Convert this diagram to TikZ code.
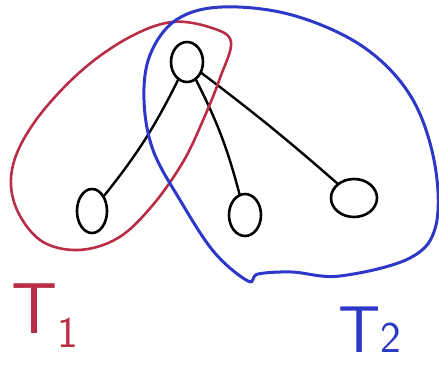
\documentclass[tikz,border=0pt]{standalone}
\usetikzlibrary{shapes.geometric}
\definecolor{penred}{RGB}{185,45,70}
\definecolor{penblue}{RGB}{45,55,200}
\tikzset{
  vert/.style={draw=black, line width=2.6pt, ellipse, inner sep=0pt},
  link/.style={draw=black, line width=2.4pt, line cap=round},
  redloop/.style={draw=penred, line width=2.6pt, line cap=round},
  blueloop/.style={draw=penblue, line width=3pt, line cap=round},
  lbl/.style={inner sep=0pt, font=\sffamily}
}
\begin{document}
\begin{tikzpicture}[x=1pt,y=-1pt]
\useasboundingbox (0,0) rectangle (439,369);
% vertices
\node[vert, minimum width=32pt, minimum height=40pt] (r) at (187,62) {};
\node[vert, minimum width=30pt, minimum height=44pt] (a) at (92,211) {};
\node[vert, minimum width=32pt, minimum height=42pt] (b) at (245,215) {};
\node[vert, minimum width=46pt, minimum height=38pt] (c) at (354,198) {};
% edges
\draw[link] (r) to[bend left=6] (a);
\draw[link] (r) to[bend left=6] (b);
\draw[link] (r) to[bend left=2] (c);
% red set T1
\draw[redloop] plot[smooth cycle, tension=0.6] coordinates {
  (231,42) (220,78) (204,118) (183,162) (152,206) (118,238) (78,250)
  (40,240) (15,205) (13,165) (36,120) (80,72) (128,38) (172,22) (212,28)};
% blue set T2
\draw[blueloop] plot[smooth cycle, tension=0.6] coordinates {
  (248,281) (214,252) (180,200) (153,150) (144,100) (150,55) (176,20)
  (222,7) (292,15) (362,46) (410,95) (434,160) (436,225) (410,258)
  (340,276) (292,272) (258,274)};
% labels
\node[lbl, text=penred, anchor=base west] (t1) at (11,333)
  {\fontsize{72}{72}\selectfont T\raisebox{-14pt}{\fontsize{44}{44}\selectfont 1}};
\node[lbl, text=penblue, anchor=base west] (t2) at (338,352)
  {\fontsize{66}{66}\selectfont T\fontsize{44}{44}\selectfont 2};
\end{tikzpicture}
\end{document}
